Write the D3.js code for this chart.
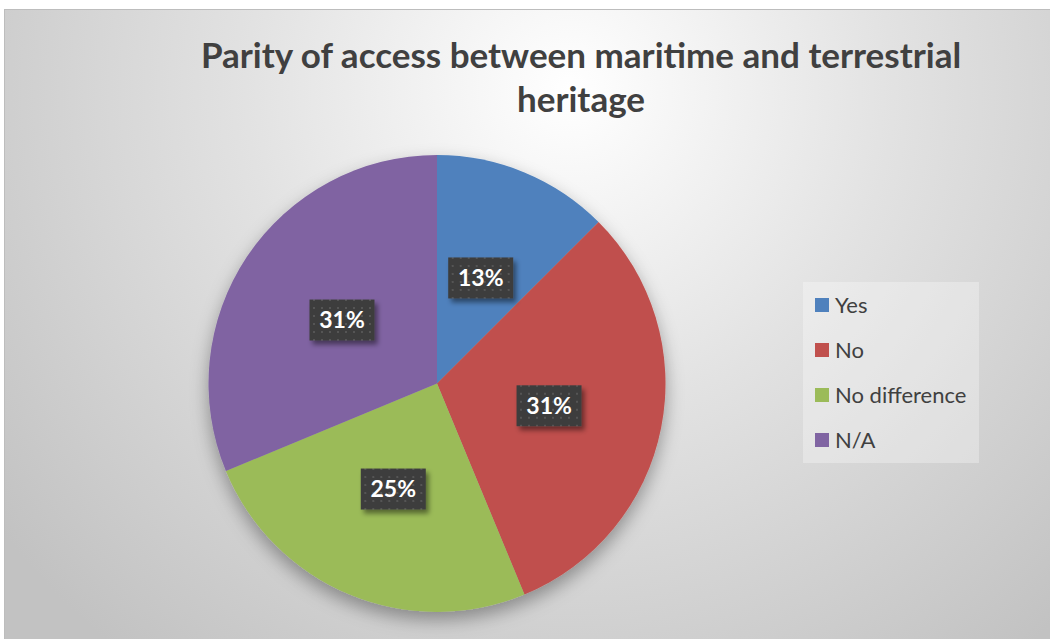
<!DOCTYPE html>
<html>
<head>
<meta charset="utf-8">
<script src="https://cdn.jsdelivr.net/npm/d3@7"></script>
<style>
  body { margin: 0; background: #fff; }
  svg { display: block; font-family: Lato, "Open Sans", sans-serif; }
</style>
</head>
<body>
<div id="chart"></div>
<script>
// data
const categories = ["Yes", "No", "No difference", "N/A"];
const shares = [0.125, 0.3125, 0.25, 0.3125];
const colors = ["#4F81BD", "#C0504D", "#9BBB59", "#8064A2"];
const titleLines = ["Parity of access between maritime and terrestrial", "heritage"];

const width = 1050, height = 639;

const svg = d3.select("#chart").append("svg")
    .attr("width", width)
    .attr("height", height);

const defs = svg.append("defs");

// background gradient
const bg = defs.append("radialGradient")
    .attr("id", "bgGrad")
    .attr("gradientUnits", "userSpaceOnUse")
    .attr("cx", 570).attr("cy", 90).attr("r", 720);
bg.append("stop").attr("offset", "0%").attr("stop-color", "#ffffff");
bg.append("stop").attr("offset", "45%").attr("stop-color", "#e2e2e2");
bg.append("stop").attr("offset", "100%").attr("stop-color", "#c2c2c2");

// shadows
const pieShadow = defs.append("filter").attr("id", "pieShadow")
    .attr("x", "-20%").attr("y", "-20%").attr("width", "140%").attr("height", "150%");
pieShadow.append("feDropShadow")
    .attr("dx", 0).attr("dy", 8).attr("stdDeviation", 9)
    .attr("flood-color", "#000").attr("flood-opacity", 0.35);

const boxShadow = defs.append("filter").attr("id", "boxShadow")
    .attr("x", "-30%").attr("y", "-30%").attr("width", "160%").attr("height", "170%");
boxShadow.append("feDropShadow")
    .attr("dx", 3).attr("dy", 4).attr("stdDeviation", 2.5)
    .attr("flood-color", "#000").attr("flood-opacity", 0.45);

// dotted fill for data label boxes
const dots = defs.append("pattern").attr("id", "dots")
    .attr("patternUnits", "userSpaceOnUse")
    .attr("width", 8).attr("height", 8);
dots.append("rect").attr("width", 8).attr("height", 8).attr("fill", "#3d3d3d");
dots.append("rect").attr("x", 3).attr("y", 3).attr("width", 2).attr("height", 2).attr("fill", "#555555");

// chart area
svg.append("rect")
    .attr("x", 4.5).attr("y", 9.5)
    .attr("width", width + 10).attr("height", height + 10)
    .attr("fill", "url(#bgGrad)")
    .attr("stroke", "#bdbdbd");

// title
const title = svg.append("text")
    .attr("text-anchor", "middle")
    .attr("fill", "#404040")
    .attr("font-weight", "bold")
    .attr("font-size", 35);
title.selectAll("tspan").data(titleLines).join("tspan")
    .attr("x", 581)
    .attr("y", (d, i) => 68 + i * 44)
    .text(d => d);

// pie
const cx = 437, cy = 383.5, radius = 228.5;

const pie = d3.pie().sort(null).value(d => d.share);
const arcs = pie(categories.map((c, i) => ({ cat: c, share: shares[i], color: colors[i] })));

const arc = d3.arc().innerRadius(0).outerRadius(radius);
const labelArc = d3.arc().innerRadius(0).outerRadius(radius);

const pieG = svg.append("g")
    .attr("transform", `translate(${cx},${cy})`);

pieG.append("g")
    .attr("filter", "url(#pieShadow)")
    .selectAll("path")
    .data(arcs)
    .join("path")
    .attr("d", arc)
    .attr("fill", d => d.data.color);

// data labels
const fmt = d3.format(".0%");
const boxW = 65, boxH = 41;

const labels = pieG.selectAll("g.label")
    .data(arcs)
    .join("g")
    .attr("class", "label")
    .attr("transform", d => `translate(${labelArc.centroid(d)})`);

labels.append("rect")
    .attr("x", -boxW / 2).attr("y", -boxH / 2)
    .attr("width", boxW).attr("height", boxH)
    .attr("fill", "url(#dots)")
    .attr("filter", "url(#boxShadow)");

labels.append("text")
    .attr("text-anchor", "middle")
    .attr("dy", "0.36em")
    .attr("fill", "#ffffff")
    .attr("font-weight", "bold")
    .attr("font-size", 23)
    .text(d => fmt(d.data.share));

// legend
const legend = svg.append("g").attr("transform", "translate(803,282)");

legend.append("rect")
    .attr("width", 176).attr("height", 181)
    .attr("fill", "#ffffff").attr("fill-opacity", 0.3);

const item = legend.selectAll("g.item")
    .data(categories)
    .join("g")
    .attr("class", "item")
    .attr("transform", (d, i) => `translate(12,${23 + i * 45})`);

item.append("rect")
    .attr("x", 0).attr("y", -7)
    .attr("width", 14).attr("height", 14)
    .attr("fill", (d, i) => colors[i]);

item.append("text")
    .attr("x", 20)
    .attr("dy", "0.36em")
    .attr("fill", "#404040")
    .attr("font-size", 22)
    .text(d => d);
</script>
</body>
</html>
